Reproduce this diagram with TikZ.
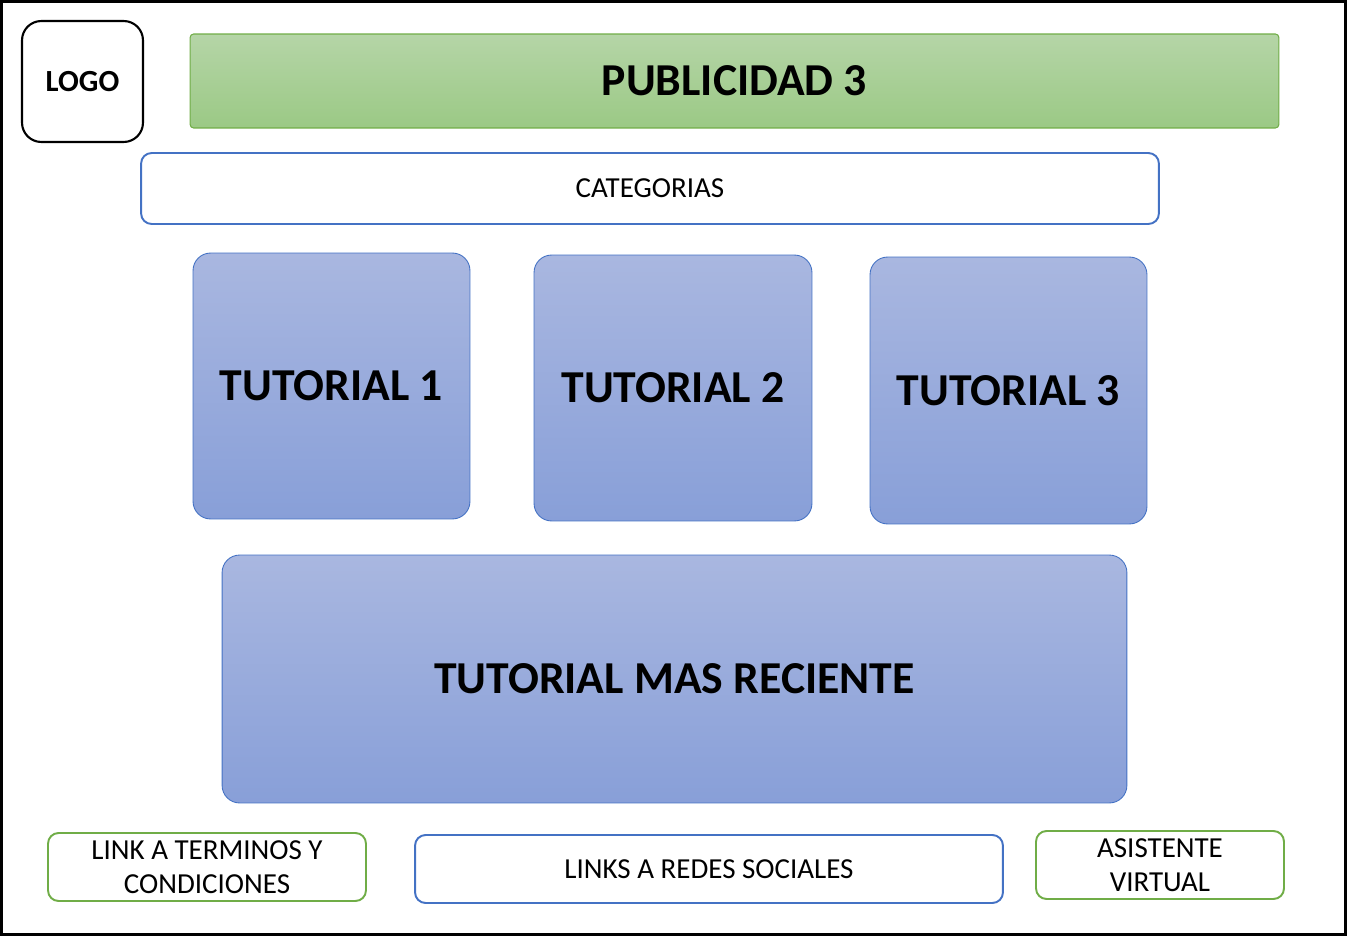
\documentclass[tikz,border=0pt]{standalone}
\usepackage{fontspec}
\setmainfont{Carlito}
\usetikzlibrary{positioning}

\definecolor{boxblue}{HTML}{4472C4}
\definecolor{boxgreen}{HTML}{70AD47}
\definecolor{tutotop}{HTML}{A9B7E0}
\definecolor{tutobot}{HTML}{889FD8}
\definecolor{pubtop}{HTML}{B5D5A7}
\definecolor{pubbot}{HTML}{9BC985}

\tikzset{
  logobox/.style={draw=black, line width=1.2pt, rounded corners=11pt, font=\fontsize{17.5}{20}\selectfont\bfseries},
  pubbox/.style={draw=boxgreen, line width=0.6pt, rounded corners=2pt, top color=pubtop, bottom color=pubbot, font=\fontsize{26}{30}\selectfont\bfseries},
  catbox/.style={draw=boxblue, line width=1.1pt, rounded corners=6pt, font=\fontsize{16.5}{19.5}\selectfont},
  tutobox/.style={draw=boxblue, line width=0.5pt, rounded corners=10pt, top color=tutotop, bottom color=tutobot, font=\fontsize{26}{30}\selectfont\bfseries},
  linkbox/.style={draw=#1, line width=1.1pt, rounded corners=6pt, align=center, inner sep=0pt, font=\fontsize{16.5}{19.5}\selectfont}
}

\begin{document}
\begin{tikzpicture}[x=0.02cm, y=-0.02cm]
\useasboundingbox (0,0) rectangle (1347,936);
% page frame
\draw[line width=1.7pt] (1.5,1.5) rectangle (1345.5,934.5);

% header
\node[logobox, minimum width=2.42cm, minimum height=2.42cm] (logo) at (82.5,81.5) {LOGO};
\node[pubbox, minimum width=21.78cm, minimum height=1.88cm] (pub) at (734.5,81) {PUBLICIDAD 3};
\node[catbox, minimum width=20.36cm, minimum height=1.42cm] (cat) at (650,188.5) {CATEGORIAS};

% tutorials
\node[tutobox, minimum width=5.54cm, minimum height=5.32cm] (tuto1) at (331.5,386) {TUTORIAL 1};
\node[tutobox, minimum width=5.56cm, minimum height=5.32cm] (tuto2) at (673,388) {TUTORIAL 2};
\node[tutobox, minimum width=5.54cm, minimum height=5.34cm] (tuto3) at (1008.5,390.5) {TUTORIAL 3};
\node[tutobox, minimum width=18.1cm, minimum height=4.96cm] (recent) at (674.5,679) {TUTORIAL MAS RECIENTE};

% footer
\node[linkbox=boxgreen, minimum width=6.36cm, minimum height=1.36cm] (terms) at (207,867) {LINK A TERMINOS Y\\CONDICIONES};
\node[linkbox=boxblue, minimum width=11.76cm, minimum height=1.36cm] (social) at (709,869) {LINKS A REDES SOCIALES};
\node[linkbox=boxgreen, minimum width=4.96cm, minimum height=1.36cm] (bot) at (1160,865) {ASISTENTE\\VIRTUAL};
\end{tikzpicture}
\end{document}
